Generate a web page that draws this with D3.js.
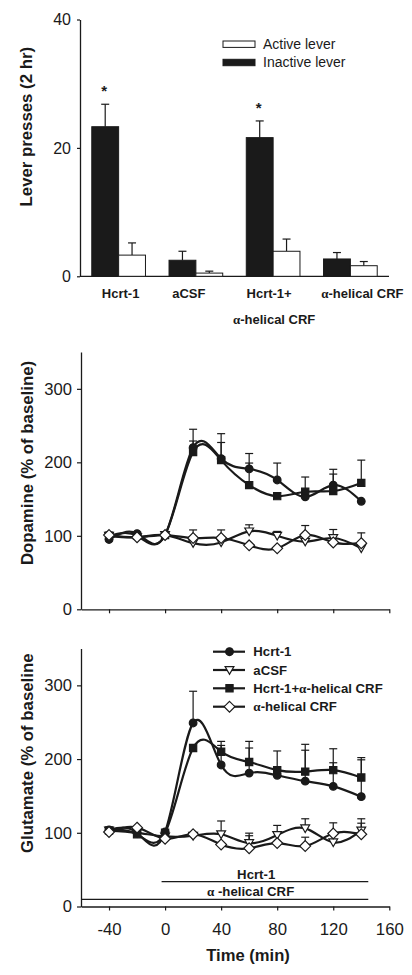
<!DOCTYPE html>
<html><head><meta charset="utf-8">
<script src="https://cdn.jsdelivr.net/npm/d3@7"></script>
<style>body{margin:0;background:#fff}</style>
</head><body>
<svg id="c" width="412" height="975"></svg>
<script>
// ---------------- data ----------------
const barCategories = ["Hcrt-1", "aCSF", "Hcrt-1+", "α-helical CRF"];
const barSubLabels = ["", "", "α-helical CRF", ""];
const barSeries = ["Active lever", "Inactive lever"];
const inactiveLever = [23.3, 2.5, 21.6, 2.7];
const inactiveLeverErr = [3.5, 1.4, 2.6, 1.0];
const activeLever = [3.3, 0.5, 3.9, 1.65];
const activeLeverErr = [1.9, 0.3, 1.9, 0.65];
const barSignificant = [true, false, true, false];
const barTicks = [0, 20, 40];

const times = [-40, -20, 0, 20, 40, 60, 80, 100, 120, 140];
const lineSeriesNames = ["Hcrt-1", "aCSF", "Hcrt-1+α-helical CRF", "α-helical CRF"];
const lineSymbols = ["circle", "triangle", "square", "diamond"];

const daHcrt = [95, 103, 101, 220, 205, 191, 176, 153, 169, 147];
const daHcrtErr = [0, 0, 0, 25, 34, 21, 23, 0, 21.5, 0];
const daCsf = [100, 98, 101, 90, 91, 106, 100, 92, 97, 83];
const daCsfErr = [0, 0, 0, 0, 0, 9, 6, 0, 11.6, 0];
const daHcrtCrf = [100, 100, 101, 214, 203, 169, 154, 160, 161, 172];
const daHcrtCrfErr = [0, 0, 0, 15, 24, 30, 0, 20, 23, 31];
const daCrf = [101, 98, 101, 97, 97, 87, 83, 101, 91, 90];
const daCrfErr = [0, 0, 0, 11, 11, 0, 0, 13, 0, 14];

const gluHcrt = [104, 100, 101, 249, 192, 181, 178, 170, 163, 149];
const gluHcrtErr = [0, 0, 0, 43, 26.5, 34, 0, 42, 32, 50];
const gluCsf = [103, 100, 95, 96, 98, 86, 97, 106, 87, 103];
const gluCsfErr = [0, 0, 0, 0, 18, 13.5, 13, 13, 0, 16];
const gluHcrtCrf = [103, 98, 100, 215, 210, 196, 185, 183, 185, 175];
const gluHcrtCrfErr = [0, 0, 0, 0, 14, 28, 26, 37, 29, 27];
const gluCrf = [101, 107, 92, 98, 84, 79, 86, 82, 99, 98];
const gluCrfErr = [0, 0, 0, 0, 0, 17, 0, 12, 14.5, 15];

const lineYTicks = [0, 100, 200, 300];
const timeTicks = [-40, 0, 40, 80, 120, 160];
const infusions = [
  {label: "Hcrt-1", start: -2.5, end: 145},
  {label: "α -helical CRF", start: -60, end: 145}
];

// ---------------- helpers ----------------
const svg = d3.select("#c");
const FONT = "'Liberation Sans', Arial, Helvetica, sans-serif";
const INK = "#1a1a1a";

function richText(sel, str) {
  const parts = str.split("α");
  parts.forEach((p, i) => {
    if (i > 0) sel.append("tspan").attr("font-family", "'Liberation Serif', 'DejaVu Serif', serif").text("α");
    if (p) sel.append("tspan").text(p);
  });
  return sel;
}

function styleAxis(g, fs) {
  g.selectAll(".domain").attr("stroke", INK).attr("stroke-width", 1.3);
  g.selectAll(".tick line").attr("stroke", INK).attr("stroke-width", 1.2);
  g.selectAll(".tick text").attr("font-family", FONT).attr("font-size", fs).attr("fill", INK);
}

function symbolPath(type) {
  switch (type) {
    case "circle": return d3.symbol(d3.symbolCircle, 46)();
    case "square": return "M-3.6,-3.6H3.6V3.6H-3.6Z";
    case "triangle": return "M-4.4,-3.4H4.4L0,4.2Z";
    case "diamond": return "M0,-5.4L5.4,0L0,5.4L-5.4,0Z";
  }
}
function symbolFill(type) { return (type === "circle" || type === "square") ? INK : "#fff"; }

// ---------------- top bar chart ----------------
const barX = d3.scaleBand().domain(barCategories).range([80, 389]).paddingInner(0.305).paddingOuter(0.1525);
const barSub = d3.scaleBand().domain(["inactive", "active"]).range([0, barX.bandwidth()]);
const barY = d3.scaleLinear().domain([0, 40]).range([276.3, 19.5]);

const gTop = svg.append("g");
const yAxisTop = gTop.append("g").attr("transform", "translate(80,0)")
  .call(d3.axisLeft(barY).tickValues(barTicks).tickSize(3).tickSizeOuter(0).tickPadding(6));
styleAxis(yAxisTop, 16);
gTop.append("line").attr("x1", 80).attr("x2", 389).attr("y1", barY(0)).attr("y2", barY(0))
  .attr("stroke", INK).attr("stroke-width", 1.3);

const barRows = barCategories.map((c, i) => ([
  {cat: c, key: "inactive", v: inactiveLever[i], e: inactiveLeverErr[i]},
  {cat: c, key: "active", v: activeLever[i], e: activeLeverErr[i]}
])).flat();

const bx = d => barX(d.cat) + barSub(d.key);
gTop.selectAll("line.err").data(barRows).join("line")
  .attr("x1", d => bx(d) + barSub.bandwidth() / 2).attr("x2", d => bx(d) + barSub.bandwidth() / 2)
  .attr("y1", d => barY(d.v)).attr("y2", d => barY(d.v + d.e))
  .attr("stroke", INK).attr("stroke-width", 1.2);
gTop.selectAll("line.cap").data(barRows).join("line")
  .attr("x1", d => bx(d) + barSub.bandwidth() / 2 - 4).attr("x2", d => bx(d) + barSub.bandwidth() / 2 + 4)
  .attr("y1", d => barY(d.v + d.e)).attr("y2", d => barY(d.v + d.e))
  .attr("stroke", INK).attr("stroke-width", 1.2);
gTop.selectAll("rect.bar").data(barRows).join("rect")
  .attr("x", d => bx(d)).attr("width", barSub.bandwidth())
  .attr("y", d => barY(d.v)).attr("height", d => barY(0) - barY(d.v))
  .attr("fill", d => d.key === "inactive" ? INK : "#fff")
  .attr("stroke", INK).attr("stroke-width", 1);

// significance stars
barCategories.forEach((c, i) => {
  if (!barSignificant[i]) return;
  gTop.append("text").attr("x", barX(c) + barSub("inactive") + barSub.bandwidth() / 2 - 1)
    .attr("y", barY(inactiveLever[i] + inactiveLeverErr[i]) - 8)
    .attr("text-anchor", "middle").attr("font-family", FONT).attr("font-weight", "bold")
    .attr("font-size", 15).attr("fill", INK).text("*");
});

// category labels
const catShift = [2, -7, -4, 12];
barCategories.forEach((c, i) => {
  const cx = barX(c) + barX.bandwidth() / 2 + catShift[i];
  richText(gTop.append("text").attr("x", cx).attr("y", 297.7).attr("text-anchor", "middle")
    .attr("font-family", FONT).attr("font-weight", "bold").attr("font-size", 13).attr("fill", INK), c);
  if (barSubLabels[i]) {
    richText(gTop.append("text").attr("x", barX(c) + barX.bandwidth() / 2 + 1).attr("y", 324).attr("text-anchor", "middle")
      .attr("font-family", FONT).attr("font-weight", "bold").attr("font-size", 13).attr("fill", INK), barSubLabels[i]);
  }
});

// y label
gTop.append("text").attr("transform", "translate(32.3,126.7) rotate(-90)").attr("text-anchor", "middle")
  .attr("font-family", FONT).attr("font-weight", "bold").attr("font-size", 16.8).attr("fill", INK)
  .text("Lever presses (2 hr)");

// legend
const legTop = gTop.append("g");
barSeries.forEach((s, i) => {
  legTop.append("rect").attr("x", 223).attr("y", 41 + i * 18.3).attr("width", 32).attr("height", 6.4)
    .attr("fill", i === 0 ? "#fff" : INK).attr("stroke", INK).attr("stroke-width", 1);
  legTop.append("text").attr("x", 263).attr("y", 49 + i * 17.8).attr("font-family", FONT)
    .attr("font-size", 14).attr("fill", INK).text(s);
});

// ---------------- line charts ----------------
const x = d3.scaleLinear().domain([-60, 160]).range([81, 389.3]);

function lineChart(yRange, series, ylabel, ylabelPos, showXLabels) {
  const y = d3.scaleLinear().domain([0, 350]).range(yRange);
  const g = svg.append("g");
  const ya = g.append("g").attr("transform", "translate(81,0)")
    .call(d3.axisLeft(y).tickValues(lineYTicks).tickSize(4).tickSizeOuter(0).tickPadding(5));
  styleAxis(ya, 16.6);
  const xa = g.append("g").attr("transform", `translate(0,${y(0)})`)
    .call(d3.axisBottom(x).tickValues(timeTicks).tickSize(4).tickSizeOuter(0).tickPadding(12.8)
      .tickFormat(showXLabels ? d3.format("d") : () => ""));
  styleAxis(xa, 16.8);
  xa.selectAll(".tick text").text(d => showXLabels ? (d < 0 ? "-" + Math.abs(d) : d) : "");

  const line = d3.line().x((d, i) => x(times[i])).y(d => y(d)).curve(d3.curveNatural);
  series.forEach(s => {
    g.append("path").attr("d", line(s.values)).attr("fill", "none")
      .attr("stroke", INK).attr("stroke-width", 2.2);
  });
  series.forEach(s => {
    s.values.forEach((v, i) => {
      const e = s.err[i];
      if (!e) return;
      const px = x(times[i]);
      g.append("line").attr("x1", px).attr("x2", px).attr("y1", y(v)).attr("y2", y(v + e))
        .attr("stroke", INK).attr("stroke-width", 1.2);
      g.append("line").attr("x1", px - 4).attr("x2", px + 4).attr("y1", y(v + e)).attr("y2", y(v + e))
        .attr("stroke", INK).attr("stroke-width", 1.2);
    });
  });
  series.forEach(s => {
    g.selectAll(null).data(s.values).join("path")
      .attr("transform", (d, i) => `translate(${x(times[i])},${y(d)})`)
      .attr("d", symbolPath(s.symbol)).attr("fill", symbolFill(s.symbol))
      .attr("stroke", INK).attr("stroke-width", 1.2);
  });
  g.append("text").attr("transform", `translate(32.5,${ylabelPos}) rotate(-90)`).attr("text-anchor", "middle")
    .attr("font-family", FONT).attr("font-weight", "bold").attr("font-size", 16.8).attr("fill", INK)
    .text(ylabel);
  return {g, y};
}

lineChart([609.3, 352.1], [
  {values: daHcrt, err: daHcrtErr, symbol: lineSymbols[0]},
  {values: daCsf, err: daCsfErr, symbol: lineSymbols[1]},
  {values: daHcrtCrf, err: daHcrtCrfErr, symbol: lineSymbols[2]},
  {values: daCrf, err: daCrfErr, symbol: lineSymbols[3]}
], "Dopamine (% of baseline)", 463, false);

const bottom = lineChart([906.5, 648.5], [
  {values: gluHcrt, err: gluHcrtErr, symbol: lineSymbols[0]},
  {values: gluCsf, err: gluCsfErr, symbol: lineSymbols[1]},
  {values: gluHcrtCrf, err: gluHcrtCrfErr, symbol: lineSymbols[2]},
  {values: gluCrf, err: gluCrfErr, symbol: lineSymbols[3]}
], "Glutamate (% of baseline", 753.3, true);

// x-axis title
svg.append("text").attr("x", 248).attr("y", 960.7).attr("text-anchor", "middle")
  .attr("font-family", FONT).attr("font-weight", "bold").attr("font-size", 16.6).attr("fill", INK)
  .text("Time (min)");

// infusion bars
const infY = [881.7, 899.3];
const infLabelX = [65, 61];
infusions.forEach((inf, i) => {
  svg.append("line").attr("x1", x(inf.start)).attr("x2", x(inf.end)).attr("y1", infY[i]).attr("y2", infY[i])
    .attr("stroke", INK).attr("stroke-width", 1.3);
  richText(svg.append("text").attr("x", x(infLabelX[i])).attr("y", infY[i] - 3).attr("text-anchor", "middle")
    .attr("font-family", FONT).attr("font-weight", "bold").attr("font-size", 13.2).attr("fill", INK), inf.label);
});

// legend (bottom chart)
const legRowY = [651.7, 670, 688.3, 706.7];
const leg = svg.append("g");
lineSeriesNames.forEach((n, i) => {
  leg.append("line").attr("x1", 213).attr("x2", 245).attr("y1", legRowY[i]).attr("y2", legRowY[i])
    .attr("stroke", INK).attr("stroke-width", 2.2);
  leg.append("path").attr("transform", `translate(229.5,${legRowY[i]})`).attr("d", symbolPath(lineSymbols[i]))
    .attr("fill", symbolFill(lineSymbols[i])).attr("stroke", INK).attr("stroke-width", 1.2);
  richText(leg.append("text").attr("x", 253.3).attr("y", legRowY[i] + 4.6)
    .attr("font-family", FONT).attr("font-weight", "bold").attr("font-size", 13.2).attr("fill", INK), n);
});
</script>
</body></html>
